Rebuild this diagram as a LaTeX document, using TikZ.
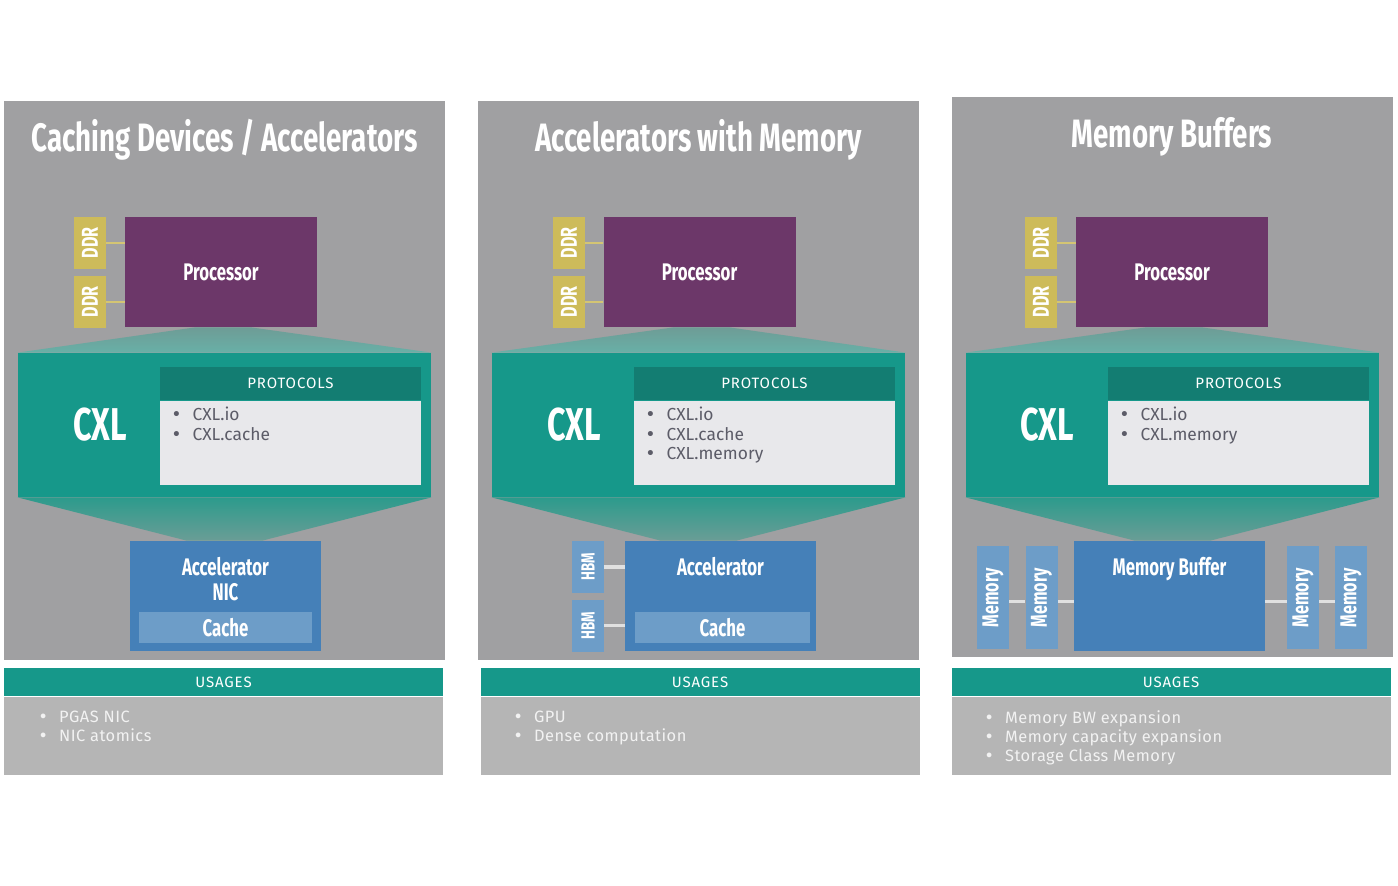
\documentclass[tikz,border=0pt]{standalone}
\usepackage{fontspec}
\usepackage{graphicx}
\usepackage{xcolor}
\setmainfont{Fira Sans}
\newfontfamily\dinfont[FakeStretch=0.7]{Fira Sans}
\newfontfamily\bltfont{DejaVu Sans}
\usetikzlibrary{positioning,shapes,calc}

\definecolor{panelgray}{HTML}{A0A0A2}
\definecolor{usegray}{HTML}{B5B5B5}
\definecolor{cxlteal}{HTML}{16988A}
\definecolor{headteal}{HTML}{137D72}
\definecolor{protobg}{HTML}{E8E8EB}
\definecolor{procpurple}{HTML}{6C3769}
\definecolor{ddryellow}{HTML}{CDBB5A}
\definecolor{accblue}{HTML}{4580B8}
\definecolor{lightblue}{HTML}{6D9DC8}
\definecolor{listgray}{HTML}{5C5C68}
\definecolor{upA}{HTML}{6E9C96}
\definecolor{upB}{HTML}{68B0A7}
\definecolor{lowA}{HTML}{2C9B8C}
\definecolor{lowB}{HTML}{6A9D96}

\newcommand{\blt}{{\bltfont\textbullet}\hspace{5.5pt}}

\begin{document}
\begin{tikzpicture}[x=0.5pt,y=-0.5pt]
        \tikzstyle{panel}
	  =[fill=panelgray, inner sep=0pt, minimum width=220.5pt, minimum height=279.5pt]
        \tikzstyle{title}
	  =[text=white, font=\dinfont\bfseries\fontsize{19.8}{24}\selectfont]
        \tikzstyle{ddr}
	  =[fill=ddryellow, inner sep=0pt, minimum width=16pt, minimum height=26pt,
	  text=white, font=\dinfont\bfseries\fontsize{11.5}{12}\selectfont]
        \tikzstyle{proc}
	  =[fill=procpurple, inner sep=0pt, minimum width=96pt, minimum height=55pt,
	  text=white, font=\dinfont\bfseries\fontsize{12}{14}\selectfont]
        \tikzstyle{cxl}
	  =[fill=cxlteal, inner sep=0pt, minimum width=206.5pt, minimum height=72pt]
        \tikzstyle{cxltext}
	  =[text=white, font=\dinfont\bfseries\fontsize{23}{26}\selectfont]
        \tikzstyle{phead}
	  =[fill=headteal, inner sep=0pt, minimum width=130.5pt, minimum height=16.5pt,
	  text=white, font=\addfontfeatures{LetterSpace=6}\fontsize{7.5}{9}\selectfont]
        \tikzstyle{pbody}
	  =[fill=protobg, inner sep=0pt, minimum width=130.5pt, minimum height=42pt]
        \tikzstyle{plist}
	  =[inner sep=0pt, anchor=north west, align=left,
	  text=listgray, font=\fontsize{8.7}{9.6}\selectfont]
        \tikzstyle{acc}
	  =[fill=accblue, inner sep=0pt, minimum width=95.5pt, minimum height=55pt]
        \tikzstyle{acctext}
	  =[inner sep=0pt, text=white, font=\dinfont\bfseries\fontsize{12}{13}\selectfont]
        \tikzstyle{cache}
	  =[fill=lightblue, inner sep=0pt, minimum height=15.5pt,
	  text=white, font=\dinfont\bfseries\fontsize{12}{13}\selectfont]
        \tikzstyle{hbm}
	  =[fill=lightblue, inner sep=0pt, minimum width=16pt, minimum height=26pt,
	  text=white, font=\dinfont\bfseries\fontsize{9.5}{10}\selectfont]
        \tikzstyle{mem}
	  =[fill=lightblue, inner sep=0pt, minimum width=16pt, minimum height=51.5pt,
	  text=white, font=\dinfont\bfseries\fontsize{11.5}{12}\selectfont]
        \tikzstyle{uhead}
	  =[fill=cxlteal, inner sep=0pt, minimum width=219.5pt, minimum height=14pt,
	  text=white, font=\addfontfeatures{LetterSpace=6}\fontsize{7.5}{9}\selectfont]
        \tikzstyle{ubody}
	  =[fill=usegray, inner sep=0pt, minimum width=219.5pt, minimum height=39pt]
        \tikzstyle{ulist}
	  =[inner sep=0pt, anchor=north west, align=left,
	  text=white!95!black, font=\addfontfeatures{LetterSpace=3}\fontsize{8.2}{9.5}\selectfont]
        \tikzstyle{ddrline}
	  =[draw=ddryellow!85!white, line width=1.2pt]
        \tikzstyle{memline}
	  =[draw=white!88!black, line width=1.6pt]

	\useasboundingbox[fill=white] (0,0) rectangle (1398,886);

	% caching devices / accelerators
	\node[panel] (pan1)
	  at (224.5,380.5) {};
	\node[title] (title1)
	  at (224.5,140) {Caching Devices / Accelerators};
	\node[ddr] (ddr1a)
	  at (90,243) {\rotatebox{90}{DDR}};
	\node[ddr] (ddr1b)
	  [below=3pt of ddr1a] {\rotatebox{90}{DDR}};
	\node[proc] (proc1)
	  at (221,272) {Processor};
	\draw[ddrline] (ddr1a.east) -- (ddr1a.east -| proc1.west);
	\draw[ddrline] (ddr1b.east) -- (ddr1b.east -| proc1.west);
	\node[cxl] (cxl1)
	  at (224.5,425) {};
	\node[acc] (acc1)
	  at (225.5,596) {};
	\shade[top color=upA, bottom color=upB]
	  (cxl1.north west) -- ([xshift=-13pt]proc1.south) -- ([xshift=15pt]proc1.south)
	  -- (cxl1.north east) -- cycle;
	\shade[top color=lowA, bottom color=lowB]
	  (cxl1.south west) -- (cxl1.south east) -- ($(cxl1.south |- acc1.north)+(19pt,0)$)
	  -- ($(cxl1.south |- acc1.north)+(-19pt,0)$) -- cycle;
	\node[cxltext] (cxltext1)
	  at (100,425) {CXL};
	\node[phead] (phead1)
	  at (290.5,383.5) {PROTOCOLS};
	\node[pbody] (pbody1)
	  [below=0pt of phead1] {};
	\node[plist] (plist1)
	  at (171,407) {\blt CXL.io\\\blt CXL.cache};
	\node[acc] (acc1)
	  at (225.5,596) {};
	\node[acctext] (acclabel1)
	  [below=8pt of acc1.north, align=center] {Accelerator\\[-0.5pt]NIC};
	\node[cache, minimum width=86.5pt] (cache1)
	  at (225.5,627.5) {Cache};
	\node[uhead] (uhead1)
	  at (223.5,682) {USAGES};
	\node[ubody] (ubody1)
	  [below=0pt of uhead1] {};
	\node[ulist] (ulist1)
	  at (38,711) {\blt PGAS NIC\\\blt NIC atomics};

	% accelerators with memory
	\node[panel] (pan2)
	  at (698.5,380.5) {};
	\node[title] (title2)
	  at (698.5,140) {Accelerators with Memory};
	\node[ddr] (ddr2a)
	  at (569,243) {\rotatebox{90}{DDR}};
	\node[ddr] (ddr2b)
	  [below=3pt of ddr2a] {\rotatebox{90}{DDR}};
	\node[proc] (proc2)
	  at (699.5,272) {Processor};
	\draw[ddrline] (ddr2a.east) -- (ddr2a.east -| proc2.west);
	\draw[ddrline] (ddr2b.east) -- (ddr2b.east -| proc2.west);
	\node[cxl] (cxl2)
	  at (698.5,425) {};
	\node[acc] (acc2)
	  at (720.5,596) {};
	\shade[top color=upA, bottom color=upB]
	  (cxl2.north west) -- ([xshift=-13pt]proc2.south) -- ([xshift=15pt]proc2.south)
	  -- (cxl2.north east) -- cycle;
	\shade[top color=lowA, bottom color=lowB]
	  (cxl2.south west) -- (cxl2.south east) -- ($(cxl2.south |- acc2.north)+(19pt,0)$)
	  -- ($(cxl2.south |- acc2.north)+(-19pt,0)$) -- cycle;
	\node[cxltext] (cxltext2)
	  at (574,425) {CXL};
	\node[phead] (phead2)
	  at (764.5,383.5) {PROTOCOLS};
	\node[pbody] (pbody2)
	  [below=0pt of phead2] {};
	\node[plist] (plist2)
	  at (645,407) {\blt CXL.io\\\blt CXL.cache\\\blt CXL.memory};
	\node[acc] (acc2)
	  at (720.5,596) {};
	\node[acctext] (acclabel2)
	  [below=8pt of acc2.north] {Accelerator};
	\node[cache, minimum width=87.5pt] (cache2)
	  at (722.5,627.5) {Cache};
	\node[hbm] (hbm2a)
	  at (588,567) {\rotatebox{90}{HBM}};
	\node[hbm] (hbm2b)
	  [below=3pt of hbm2a] {\rotatebox{90}{HBM}};
	\draw[memline] (hbm2a.east) -- (hbm2a.east -| acc2.west);
	\draw[memline] (hbm2b.east) -- (hbm2b.east -| acc2.west);
	\node[uhead] (uhead2)
	  at (700,682) {USAGES};
	\node[ubody] (ubody2)
	  [below=0pt of uhead2] {};
	\node[ulist] (ulist2)
	  at (513,711) {\blt GPU\\\blt Dense computation};

	% memory buffers
	\node[panel, minimum height=280pt] (pan3)
	  at (1172.5,377) {};
	\node[title] (title3)
	  at (1172,137) {Memory Buffers};
	\node[ddr] (ddr3a)
	  at (1041,243) {\rotatebox{90}{DDR}};
	\node[ddr] (ddr3b)
	  [below=3pt of ddr3a] {\rotatebox{90}{DDR}};
	\node[proc] (proc3)
	  at (1172,272) {Processor};
	\draw[ddrline] (ddr3a.east) -- (ddr3a.east -| proc3.west);
	\draw[ddrline] (ddr3b.east) -- (ddr3b.east -| proc3.west);
	\node[cxl] (cxl3)
	  at (1172.5,425) {};
	\node[acc] (buf3)
	  at (1169.5,596) {};
	\shade[top color=upA, bottom color=upB]
	  (cxl3.north west) -- ([xshift=-13pt]proc3.south) -- ([xshift=15pt]proc3.south)
	  -- (cxl3.north east) -- cycle;
	\shade[top color=lowA, bottom color=lowB]
	  (cxl3.south west) -- (cxl3.south east) -- ($(cxl3.south |- buf3.north)+(19pt,0)$)
	  -- ($(cxl3.south |- buf3.north)+(-19pt,0)$) -- cycle;
	\node[cxltext] (cxltext3)
	  at (1047,425) {CXL};
	\node[phead] (phead3)
	  at (1238.5,383.5) {PROTOCOLS};
	\node[pbody] (pbody3)
	  [below=0pt of phead3] {};
	\node[plist] (plist3)
	  at (1119,407) {\blt CXL.io\\\blt CXL.memory};
	\node[acc] (buf3)
	  at (1169.5,596) {};
	\node[acctext] (buflabel3)
	  [below=8pt of buf3.north] {Memory Buffer};
	\node[mem] (mem3a)
	  at (993,597.5) {\rotatebox{90}{Memory}};
	\node[mem] (mem3b)
	  at (1041.5,597.5) {\rotatebox{90}{Memory}};
	\node[mem] (mem3c)
	  at (1303,597.5) {\rotatebox{90}{Memory}};
	\node[mem] (mem3d)
	  at (1351,597.5) {\rotatebox{90}{Memory}};
	\draw[memline] ([yshift=-2pt]mem3a.east) -- ([yshift=-2pt]mem3b.west);
	\draw[memline] ([yshift=-2pt]mem3b.east) -- ([yshift=-2pt]mem3b.east -| buf3.west);
	\draw[memline] ([yshift=-2pt]mem3c.west -| buf3.east) -- ([yshift=-2pt]mem3c.west);
	\draw[memline] ([yshift=-2pt]mem3c.east) -- ([yshift=-2pt]mem3d.west);
	\node[uhead] (uhead3)
	  at (1171,682) {USAGES};
	\node[ubody] (ubody3)
	  [below=0pt of uhead3] {};
	\node[ulist] (ulist3)
	  at (984,710) {\blt Memory BW expansion\\\blt Memory capacity expansion\\\blt Storage Class Memory};
\end{tikzpicture}
\end{document}
